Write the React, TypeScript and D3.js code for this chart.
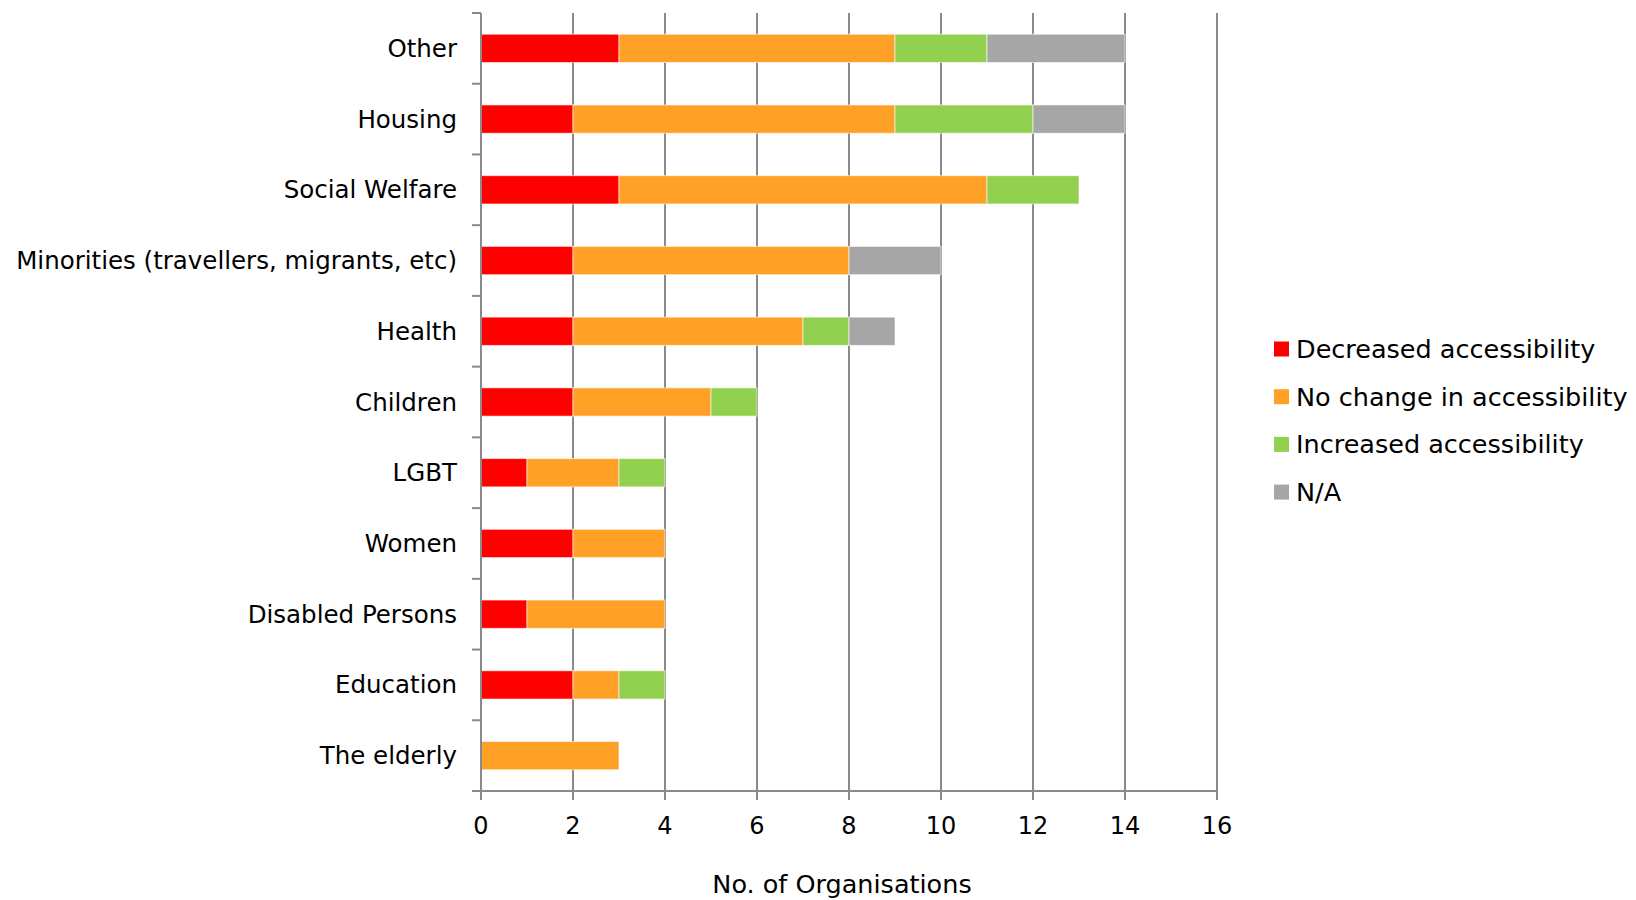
import React from "react";
import * as d3 from "d3";

const categories = [
  "Other",
  "Housing",
  "Social Welfare",
  "Minorities (travellers, migrants, etc)",
  "Health",
  "Children",
  "LGBT",
  "Women",
  "Disabled Persons",
  "Education",
  "The elderly",
];
const decreased = [3, 2, 3, 2, 2, 2, 1, 2, 1, 2, 0];
const noChange = [6, 7, 8, 6, 5, 3, 2, 2, 3, 1, 3];
const increased = [2, 3, 2, 0, 1, 1, 1, 0, 0, 1, 0];
const notApplicable = [3, 2, 0, 2, 1, 0, 0, 0, 0, 0, 0];
const seriesNames = [
  "Decreased accessibility",
  "No change in accessibility",
  "Increased accessibility",
  "N/A",
];
const seriesColors = ["#ff0000", "#ffa126", "#92d050", "#a6a6a6"];
const xTicks = [0, 2, 4, 6, 8, 10, 12, 14, 16];
const xTitle = "No. of Organisations";

const W = 1636;
const H = 900;
const left = 481;
const right = 1217;
const top = 13;
const bottom = 791;
const FONT = "'DejaVu Sans', sans-serif";

export default function App() {
  const x = d3.scaleLinear().domain([0, 16]).range([left, right]);
  const y = d3
    .scaleBand<string>()
    .domain(categories)
    .range([top, bottom])
    .paddingInner(0.6)
    .paddingOuter(0.3);
  const rows = categories.map((c, i) => ({
    c,
    d: decreased[i],
    n: noChange[i],
    i: increased[i],
    a: notApplicable[i],
  }));
  const keys = ["d", "n", "i", "a"];
  const stacked = d3.stack<any>().keys(keys)(rows);
  const axisColor = "#8a8a8a";
  const boundaries = d3.range(categories.length + 1).map((k) => top + (k * (bottom - top)) / categories.length);

  return (
    <svg width={W} height={H} style={{ position: "absolute", left: 0, top: 0, background: "#fff" }}>
      {xTicks.filter((t) => t > 0).map((t) => (
        <line key={"g" + t} x1={x(t)} x2={x(t)} y1={top} y2={bottom} stroke={axisColor} strokeWidth={2} />
      ))}
      {stacked.map((layer, si) =>
        layer.map((seg, ci) =>
          seg[1] - seg[0] > 0 ? (
            <rect
              key={si + "-" + ci}
              x={x(seg[0])}
              width={x(seg[1]) - x(seg[0])}
              y={y(categories[ci])!}
              height={y.bandwidth()}
              fill={seriesColors[si]}
              stroke="#ffffff"
              strokeOpacity={0.6}
              strokeWidth={1}
            />
          ) : null
        )
      )}
      <line x1={left} x2={left} y1={top} y2={bottom} stroke={axisColor} strokeWidth={2} />
      <line x1={left} x2={right} y1={bottom} y2={bottom} stroke={axisColor} strokeWidth={2} />
      {boundaries.map((b, k) => (
        <line key={"yt" + k} x1={left - 9} x2={left} y1={b} y2={b} stroke={axisColor} strokeWidth={2} />
      ))}
      {xTicks.map((t) => (
        <line key={"xt" + t} x1={x(t)} x2={x(t)} y1={bottom} y2={bottom + 9} stroke={axisColor} strokeWidth={2} />
      ))}
      {categories.map((c) => (
        <text
          key={"l" + c}
          x={left - 24}
          y={y(c)! + y.bandwidth() / 2}
          textAnchor="end"
          dominantBaseline="central"
          fontFamily={FONT}
          fontSize={24.5}
          fill="#000"
        >
          {c}
        </text>
      ))}
      {xTicks.map((t) => (
        <text
          key={"xl" + t}
          x={x(t)}
          y={826}
          textAnchor="middle"
          dominantBaseline="central"
          fontFamily={FONT}
          fontSize={24}
          fill="#000"
        >
          {t}
        </text>
      ))}
      <text x={842} y={884} textAnchor="middle" dominantBaseline="central" fontFamily={FONT} fontSize={25.5} fill="#000">
        {xTitle}
      </text>
      {seriesNames.map((s, i) => (
        <g key={"lg" + i} transform={`translate(1274, ${349 + i * 47.7})`}>
          <rect x={0} y={-7.5} width={15} height={15} fill={seriesColors[i]} />
          <text x={22} y={0} dominantBaseline="central" fontFamily={FONT} fontSize={25.5} fill="#000">
            {s}
          </text>
        </g>
      ))}
    </svg>
  );
}
